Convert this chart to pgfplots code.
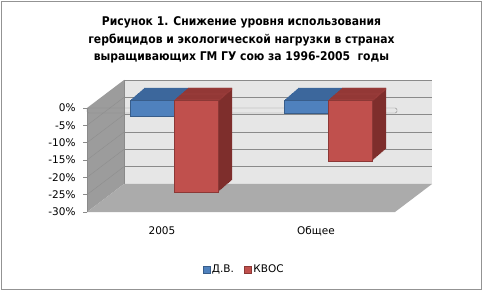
\documentclass[border=0pt]{standalone}
\usepackage{pgfplots}
\pgfplotsset{compat=1.18}
\usepackage{pgfplotstable}
\usepackage{fontspec}
\setmainfont{DejaVu Sans}
\newfontfamily\titlefont{DejaVuSansCondensed-Bold.ttf}
\definecolor{bluefront}{HTML}{4F81BD}
\definecolor{blueedge}{HTML}{385D8A}
\definecolor{bluetop}{HTML}{3C679C}
\definecolor{redfront}{HTML}{C0504D}
\definecolor{rededge}{HTML}{8C3836}
\definecolor{redtop}{HTML}{9A3C3A}
\definecolor{redside}{HTML}{7E2E2C}
\definecolor{backwall}{HTML}{E6E6E6}
\definecolor{sidewall}{HTML}{9C9C9C}
\definecolor{sidegrid}{HTML}{8E8E8E}
\definecolor{floorc}{HTML}{ABABAB}
\definecolor{gridc}{HTML}{8A8A8A}
\pgfplotstableread{
x dv kvos
0 -4.8 -26.6
1 -3.8 -17.6
}\data
\begin{document}
\begin{tikzpicture}
\useasboundingbox (0,0) rectangle (483bp,291bp);
\fill[white] (0,0) rectangle (483bp,291bp);
\draw[gray!85] (1.5bp,1.5bp) rectangle (481.5bp,289.5bp);
\node[align=center, font=\titlefont\fontsize{12bp}{17.5bp}\selectfont] at (241.5bp,251bp)
 {Рисунок 1. Снижение уровня использования\\гербицидов и экологической нагрузки в странах\\выращивающих ГМ ГУ сою за 1996-2005\ \ годы};
\begin{axis}[
 at={(87bp,79bp)}, anchor=south west, scale only axis,
 width=308bp, height=104bp,
 xmin=-0.5, xmax=1.5, ymin=-30, ymax=0,
 clip=false, axis line style={draw=none}, major tick length=0pt,
 xtick={0,1}, xticklabels={2005,Общее},
 ytick={-30,-25,...,0},
 yticklabels={-30\%,-25\%,-20\%,-15\%,-10\%,-5\%,0\%},
 yticklabel style={font=\fontsize{10.5bp}{12bp}\selectfont, xshift=-8bp},
 xticklabel style={font=\fontsize{10.5bp}{12bp}\selectfont, yshift=-11bp, xshift=-2bp},
 legend style={at={(axis description cs:0.51,-0.55)}, anchor=center, draw=none, fill=none,
   legend columns=2, font=\fontsize{10.5bp}{12bp}\selectfont,
   /tikz/every even column/.append style={column sep=8bp}},
 legend image code/.code={\draw[#1] (0bp,-3.5bp) rectangle (7bp,3.5bp);},
]
% walls
\fill[backwall] ([shift={(37bp,28bp)}]axis cs:-0.5,-30) rectangle ([shift={(37bp,28bp)}]axis cs:1.5,0);
\pgfplotsinvokeforeach{-25,-20,-15,-10,-5,0}{
 \draw[gridc] ([shift={(37bp,28bp)}]axis cs:-0.5,#1) -- ([shift={(37bp,28bp)}]axis cs:1.5,#1);
}
\fill[sidewall] (axis cs:-0.5,0) -- ([shift={(37bp,28bp)}]axis cs:-0.5,0) -- ([shift={(37bp,28bp)}]axis cs:-0.5,-30) -- (axis cs:-0.5,-30) -- cycle;
\pgfplotsinvokeforeach{-25,-20,-15,-10,-5}{
 \draw[sidegrid] (axis cs:-0.5,#1) -- ([shift={(37bp,28bp)}]axis cs:-0.5,#1);
}
\draw[gridc] ([shift={(37bp,28bp)}]axis cs:-0.5,0) -- ([shift={(37bp,28bp)}]axis cs:-0.5,-30);
\fill[floorc] (axis cs:-0.5,-30) -- (axis cs:1.5,-30) -- ([shift={(37bp,28bp)}]axis cs:1.5,-30) -- ([shift={(37bp,28bp)}]axis cs:-0.5,-30) -- cycle;
\draw[gridc] (axis cs:-0.5,0) -- (axis cs:-0.5,-30);
\pgfplotsinvokeforeach{-30,-25,-20,-15,-10,-5,0}{
 \draw[gridc] (axis cs:-0.5,#1) -- ([xshift=-4bp]axis cs:-0.5,#1);
}
\draw[gridc, rounded corners=1.5bp] (axis cs:-0.5,0) rectangle ([shift={(2bp,-5bp)}]axis cs:1.5,0);
% blue bars (depth)
\pgfplotsinvokeforeach{14,13,...,1}{
 \addplot[ybar, bar width=44bp, bar shift=-22bp, draw=none, fill=bluetop, forget plot,
   xshift=10bp+#1*1bp, yshift=8bp+#1*0.86bp] table[x=x,y=dv]{\data};
}
\addplot[ybar, bar width=44bp, bar shift=-22bp, draw=blueedge, fill=bluefront, forget plot,
   xshift=10bp, yshift=8bp] table[x=x,y=dv]{\data};
% red bars (depth)
\pgfplotsinvokeforeach{14,13,...,1}{
 \addplot[ybar, bar width=44bp, bar shift=22bp, draw=none, fill=redside, forget plot,
   xshift=10bp+#1*1bp, yshift=8bp+#1*0.86bp] table[x=x,y=kvos]{\data};
 \addplot[ybar, bar width=44bp, bar shift=22bp, draw=none, fill=redtop, forget plot,
   xshift=10bp+#1*1bp, yshift=8bp+#1*0.86bp] coordinates {(0,-0.6) (1,-0.6)};
}
\addplot[ybar, bar width=44bp, bar shift=22bp, draw=rededge, fill=redfront, forget plot,
   xshift=10bp, yshift=8bp] table[x=x,y=kvos]{\data};
\addlegendimage{fill=bluefront, draw=blueedge}
\addlegendentry{Д.В.}
\addlegendimage{fill=redfront, draw=rededge}
\addlegendentry{КВОС}
\end{axis}
\end{tikzpicture}
\end{document}
